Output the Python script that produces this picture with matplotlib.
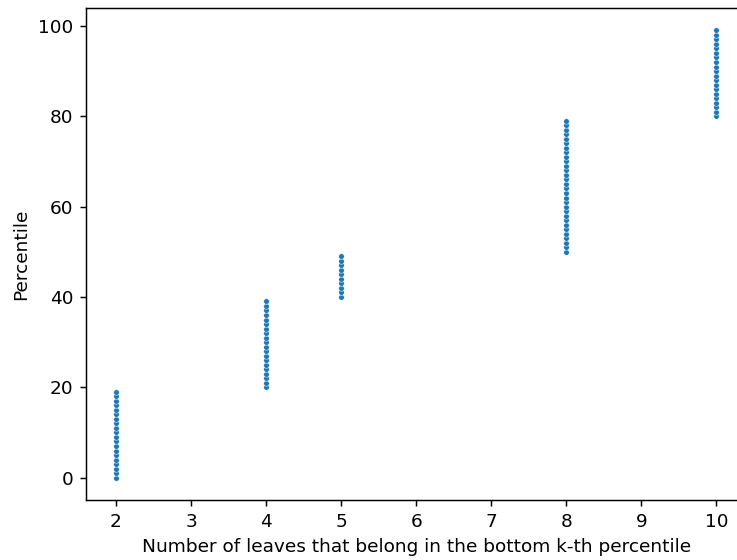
import matplotlib
matplotlib.use("Agg")
import matplotlib.pyplot as plt

# Number of leaves for each percentile group
leaves_2 = [2] * 20
pct_2 = [0, 1, 2, 3, 4, 5, 6, 7, 8, 9, 10, 11, 12, 13, 14, 15, 16, 17, 18, 19]
leaves_4 = [4] * 20
pct_4 = [20, 21, 22, 23, 24, 25, 26, 27, 28, 29, 30, 31, 32, 33, 34, 35, 36, 37, 38, 39]
leaves_5 = [5] * 10
pct_5 = [40, 41, 42, 43, 44, 45, 46, 47, 48, 49]
leaves_8 = [8] * 30
pct_8 = [50, 51, 52, 53, 54, 55, 56, 57, 58, 59, 60, 61, 62, 63, 64, 65, 66, 67, 68, 69,
         70, 71, 72, 73, 74, 75, 76, 77, 78, 79]
leaves_10 = [10] * 20
pct_10 = [80, 81, 82, 83, 84, 85, 86, 87, 88, 89, 90, 91, 92, 93, 94, 95, 96, 97, 98, 99]

x = leaves_2 + leaves_4 + leaves_5 + leaves_8 + leaves_10
y = pct_2 + pct_4 + pct_5 + pct_8 + pct_10

DPI = 133
fig = plt.figure(figsize=(737 / DPI, 560 / DPI), dpi=DPI)
ax = fig.add_axes([86 / 737, 60 / 560, 660.5 / 737, 492 / 560])
ax.scatter(x, y, s=9, color="#1f77b4", edgecolor="white", linewidth=0.25)
ax.set_xlim(1.6, 10.4)
ax.set_ylim(-4.95, 103.95)
ax.set_xticks([2, 3, 4, 5, 6, 7, 8, 9, 10])
ax.set_yticks([0, 20, 40, 60, 80, 100])
ax.set_xlabel("Number of leaves that belong in the bottom k-th percentile")
ax.set_ylabel("Percentile")
fig.savefig("out.png", dpi=DPI)
